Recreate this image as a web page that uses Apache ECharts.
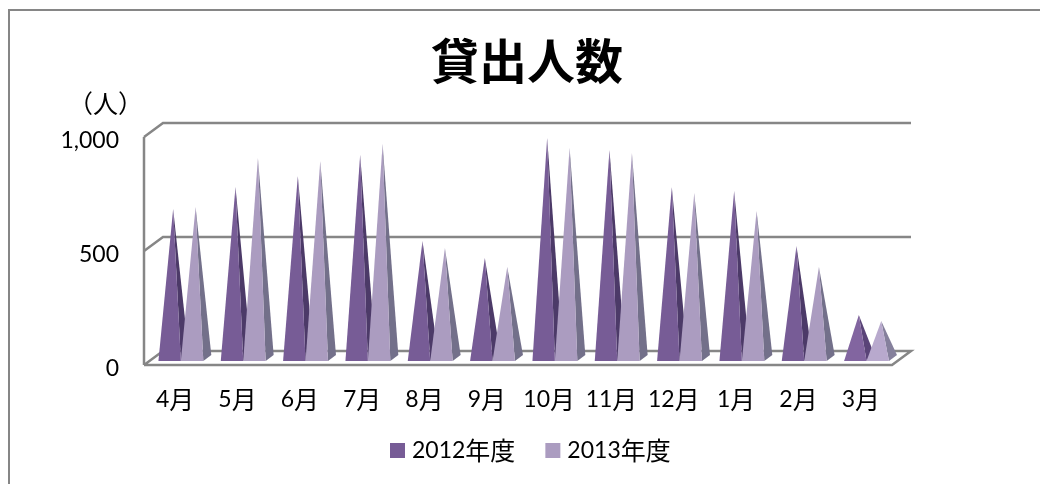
<!DOCTYPE html>
<html>
<head>
<meta charset="utf-8">
<script src="https://cdn.jsdelivr.net/npm/echarts@6/dist/echarts.min.js"></script>
<style>
html, body { margin: 0; padding: 0; background: #fff; }
#chart { width: 1040px; height: 484px; }
</style>
</head>
<body>
<div id="chart"></div>
<script>
const months = ['4月', '5月', '6月', '7月', '8月', '9月', '10月', '11月', '12月', '1月', '2月', '3月'];
const loans2012 = [653, 750, 798, 890, 513, 439, 965, 912, 750, 732, 491, 189];
const loans2013 = [662, 877, 864, 939, 482, 399, 921, 899, 724, 645, 399, 162];
const yTicks = [0, 500, 1000];

const font = 'Lato, "Noto Sans CJK JP", sans-serif';
const lineColor = '#868686';

// digits and kanji need different sizes, Lato digits run wider than the original font
const mixedRich = {
    d: { fontFamily: 'Lato', fontSize: 23, color: '#000' },
    c: { fontFamily: '"Noto Sans CJK JP"', fontSize: 25, color: '#000' }
};
function mixedLabel(text) {
    const m = text.match(/^(\d+)(.*)$/);
    return '{d|' + m[1] + '}{c|' + m[2] + '}';
}

// box depth in px, the walls are drawn as an oblique projection
const depthX = 19, depthY = 14;

function renderFrame(params, api) {
    const box = params.coordSys;
    const y = api.coord([0, api.value(0)])[1];
    const left = box.x, right = box.x + box.width;
    const backRight = right + depthX;
    const style = { stroke: lineColor, lineWidth: 2.5, fill: null };
    const points = api.value(0) === 0
        ? [[left, y], [right, y], [backRight, y - depthY], [left + depthX, y - depthY], [left, y]]
        : [[left, y], [left + depthX, y - depthY], [backRight, y - depthY]];
    const children = [{ type: 'polyline', shape: { points: points }, style: style }];
    if (api.value(0) === 1000) {
        children.push({ type: 'line', shape: { x1: left, y1: y, x2: left, y2: box.y + box.height }, style: style });
    }
    return { type: 'group', children: children };
}

function pyramid(side, front, sideColor, shortFront, shortSide) {
    return function (params, api) {
        const band = api.size([1, 0])[0];
        const center = api.coord([api.value(0), 0]);
        const top = api.coord([api.value(0), api.value(1)]);
        const isShort = api.value(1) < 300; // the short ones come out paler in the original
        const w = band * 0.36;
        const l = center[0] + 5.7 + (side === 0 ? -w : 0);
        const r = l + w;
        const b = center[1] - 4;
        const apex = [(l + r) / 2 + 3.5, top[1] - 7];
        return {
            type: 'group',
            children: [{
                type: 'polygon',
                shape: { points: [[r, b], [r + 8, b - 6], apex] },
                style: { fill: isShort ? shortSide : sideColor }
            }, {
                type: 'polygon',
                shape: { points: [[l, b], [r, b], apex] },
                style: { fill: isShort ? shortFront : front }
            }]
        };
    };
}

const chart = echarts.init(document.getElementById('chart'));
chart.setOption({
    animation: false,
    title: {
        text: '貸出人数',
        left: 522,
        textAlign: 'center',
        top: 35,
        textStyle: { fontFamily: font, fontSize: 48, fontWeight: 'bold', color: '#000' }
    },
    legend: {
        left: 390,
        top: 438,
        padding: 0,
        itemWidth: 15,
        itemHeight: 15,
        itemGap: 30,
        icon: 'rect',
        data: ['2012年度', '2013年度'],
        formatter: mixedLabel,
        textStyle: { rich: mixedRich, padding: [0, 0, 0, 2] }
    },
    grid: { left: 144, top: 137, width: 748, height: 228 },
    xAxis: {
        type: 'category',
        data: months,
        axisLine: { show: false },
        axisTick: { show: false },
        axisLabel: { margin: 22, interval: 0, formatter: mixedLabel, rich: mixedRich }
    },
    yAxis: {
        type: 'value',
        min: 0,
        max: 1000,
        interval: 500,
        name: '（人）',
        nameGap: 20,
        nameTextStyle: { fontFamily: font, fontSize: 25, color: '#000', align: 'right', padding: [0, 1, 0, 0] },
        splitLine: { show: false },
        axisLine: { show: false },
        axisTick: { show: false },
        axisLabel: {
            margin: 25,
            formatter: v => '{n|' + v.toLocaleString('en-US') + '}',
            rich: { n: { fontFamily: 'Lato', fontSize: 23, color: '#000', padding: [7, 0, 0, 0] } }
        }
    },
    graphic: [{
        type: 'polyline',
        shape: { points: [[9, 484], [9, 10], [1040, 10]] },
        style: { stroke: lineColor, lineWidth: 2, fill: null }
    }],
    series: [{
        type: 'custom',
        name: 'frame',
        renderItem: renderFrame,
        silent: true,
        data: yTicks.map(v => [v]),
        encode: { y: 0 }
    }, {
        type: 'custom',
        name: '2012年度',
        renderItem: pyramid(0, '#775c96', '#4c3a68', '#8265a0', '#5a4478'),
        itemStyle: { color: '#775c96' },
        data: loans2012.map((v, i) => [i, v]),
        encode: { x: 0, y: 1 }
    }, {
        type: 'custom',
        name: '2013年度',
        renderItem: pyramid(1, '#ab9cc0', '#73708a', '#b8a9cd', '#85809c'),
        itemStyle: { color: '#ab9cc0' },
        data: loans2013.map((v, i) => [i, v]),
        encode: { x: 0, y: 1 }
    }]
});
</script>
</body>
</html>
